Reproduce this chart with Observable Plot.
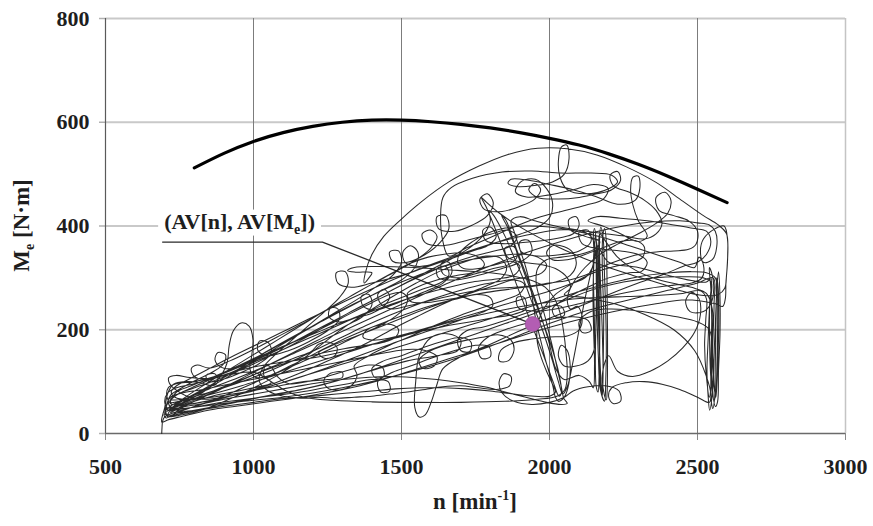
<!DOCTYPE html>
<html><head><meta charset="utf-8">
<script src="https://cdn.jsdelivr.net/npm/d3@7"></script>
<script src="https://cdn.jsdelivr.net/npm/@observablehq/plot@0.6"></script>
<style>body{margin:0;background:#fff} svg{display:block}</style>
</head><body><div id="chart"></div>
<script>
const xTicks = [500, 1000, 1500, 2000, 2500, 3000];
const yTicks = [0, 200, 400, 600, 800];

// full-load torque curve
const maxN = [800, 900, 1000, 1100, 1200, 1300, 1400, 1500, 1600, 1700, 1800, 1900, 2000, 2100, 2200, 2300, 2400, 2500, 2600];
const maxM = [512, 540, 563, 580, 592, 600, 604, 604, 601, 596, 589, 580, 569, 556, 539, 519, 496, 471, 445];

// average operating point
const avgN = [1943];
const avgM = [211];

// annotation leader (text start -> elbow -> average point)
const leaderN = [693, 1233, 1943];
const leaderM = [369, 369, 211];
const labelMain = "(AV[n], AV[M";
const labelSub = "e";
const labelEnd = "])";

const trace = [
[690,0],[691,12],[693,24],[700,32],[730,40],[790,50],[860,64],[940,82],[1020,102],[1100,122],[1180,142],[1260,163],[1340,185],[1410,203],[1470,222],[1510,242],[1520,260],[1500,272],[1460,268],[1400,252],[1330,232],[1250,208],[1160,183],[1060,158],[960,132],[870,108],[790,88],[735,72],[708,56],[702,42],[715,33],[760,36],[830,46],
[910,64],[1000,88],[1090,115],[1170,145],[1240,176],[1310,206],[1390,236],[1470,264],[1550,290],[1630,313],[1710,330],[1785,342],[1835,338],[1855,318],[1835,298],[1785,284],[1715,268],[1635,248],[1555,226],[1475,203],[1395,178],[1315,156],[1235,136],[1155,116],[1075,98],[995,84],[915,71],[845,60],[785,49],[735,38],[705,30],[698,36],[720,48],
[770,62],[830,80],[880,104],[910,135],[918,170],[932,198],[958,213],[985,207],[998,182],[994,150],[988,124],[1008,108],[1060,113],[1130,132],[1210,155],[1290,178],[1370,198],[1450,216],[1530,233],[1610,248],[1690,260],[1755,268],[1800,262],[1808,246],[1775,234],[1715,222],[1645,208],[1565,193],[1485,177],[1405,160],[1325,143],[1245,126],[1165,110],[1085,96],[1005,84],[935,74],[875,68],[825,66],[775,72],[738,84],[716,97],[714,108],[738,112],[785,108],
[850,106],[925,114],[1000,118],[1060,100],[1110,82],[1170,70],[1270,64],[1400,61],[1550,60],[1700,60],[1850,62],[1960,66],[2025,72],[2052,85],[2060,115],[2056,155],[2048,195],[2036,232],[2015,262],[1985,282],[1945,294],
[1880,303],[1800,310],[1700,314],[1600,318],[1500,321],[1420,322],[1340,320],[1318,314],[1345,311],[1400,310],[1390,300],[1374,290],[1378,310],[1400,345],[1440,380],[1497,412],[1570,448],[1660,485],[1760,515],[1860,538],[1960,550],[2060,549],[2160,537],[2260,514],[2360,484],[2450,448],[2520,420],[2570,402],[2598,385],[2602,345],[2598,305],[2592,280],[2570,268],[2520,266],[2450,274],[2380,288],
[2280,305],[2150,330],[2020,362],[1910,395],[1830,425],[1785,447],[1770,455],[1785,438],[1820,390],[1860,330],[1900,270],[1940,210],[1980,150],[2012,100],[2032,72],[2040,78],[2032,115],[2004,172],[1966,232],[1926,292],[1888,352],[1858,398],[1838,420],[1852,412],[1888,356],[1928,296],[1966,236],[1998,176],[2022,124],[2050,104],
[2100,112],[2135,100],[2148,88],[2152,130],[2149,200],[2147,268],[2150,330],[2155,384],[2160,342],[2162,280],[2165,220],[2169,160],[2174,102],[2178,72],[2181,112],[2179,182],[2175,252],[2171,312],[2169,372],[2173,398],[2181,378],[2186,302],[2190,232],[2192,162],[2190,102],[2186,62],[2172,84],[2165,150],[2160,240],[2158,320],[2162,360],
[2200,330],[2300,320],[2400,305],[2480,295],[2530,292],[2546,300],[2541,250],[2536,182],[2532,122],[2536,72],[2541,45],[2551,82],[2556,152],[2561,222],[2566,282],[2571,312],[2576,262],[2576,192],[2571,122],[2568,62],[2561,52],[2546,102],[2541,172],[2541,242],[2546,292],
[2520,300],[2450,302],[2350,300],[2250,292],[2150,278],[2050,256],[1950,232],[1850,212],[1750,192],[1650,172],[1550,152],[1450,132],[1350,113],[1250,97],[1150,84],[1050,73],[950,61],[870,52],[800,45],[745,40],[712,34],[700,40],[718,52],
[780,70],[870,98],[960,128],[1050,160],[1150,192],[1250,222],[1350,252],[1440,278],[1510,300],[1550,325],[1555,350],[1530,362],[1505,350],[1512,330],[1560,322],[1640,332],[1730,350],[1820,368],[1900,384],[1962,398],[2002,418],[2010,446],[1990,472],[1952,490],[1905,486],[1885,466],[1922,456],[2000,460],[2080,470],[2150,480],[2198,472],[2182,452],[2122,440],[2040,428],[1960,416],[1880,398],[1800,378],[1720,358],[1660,342],
[1640,370],[1632,420],[1640,455],[1668,474],[1740,492],[1840,504],[1940,506],[2040,502],[2140,502],[2210,498],[2230,485],[2200,472],
[2120,462],[2060,470],[2035,495],[2030,525],[2040,552],[2058,556],[2066,530],[2050,500],[2010,485],[1950,478],[1890,476],[1860,482],[1870,490],[1930,488],[2000,480],[2080,470],[2160,456],[2230,442],[2290,450],[2305,472],[2300,496],[2282,494],[2274,470],[2282,440],[2300,410],[2330,380],
[2300,370],[2240,385],[2180,400],[2130,410],[2160,418],[2240,415],[2330,410],[2420,402],[2490,395],[2530,390],[2545,370],[2530,345],[2500,330],[2450,322],
[2400,310],[2300,290],[2200,268],[2100,245],[2000,222],[1900,198],[1800,172],[1700,148],[1640,125],[1620,95],[1600,60],[1580,36],[1560,32],[1545,50],[1548,100],[1560,150],[1600,185],[1660,192],[1700,180],[1690,160],[1620,150],[1520,140],[1420,125],[1320,108],[1220,92],[1120,80],[1020,70],[930,60],[850,50],[780,42],[730,36],
[760,50],[830,70],[900,88],[980,108],[1060,128],[1140,146],[1195,158],[1220,172],[1255,176],[1282,166],[1275,150],[1240,145],[1220,155],[1260,168],[1340,186],[1420,204],[1500,222],[1580,240],[1660,256],[1740,272],[1820,286],[1880,296],[1915,288],[1900,270],[1850,258],[1780,244],[1700,228],[1620,210],[1540,190],[1460,170],[1390,150],[1340,130],[1350,112],[1330,92],[1290,84],[1250,88],[1238,102],[1260,116],[1300,118],[1300,108],[1250,104],[1170,100],[1090,92],[1010,84],[930,76],[860,70],[800,66],[750,62],
[720,60],[740,80],[790,92],[860,108],[940,128],[1020,150],[1100,175],[1180,200],[1260,226],[1340,250],[1420,272],[1500,292],[1580,310],[1660,325],[1740,336],[1820,342],[1900,346],[1960,340],[1990,325],[1975,310],[1930,302],[1860,296],[1780,288],[1700,276],[1620,262],[1540,246],[1460,228],[1380,208],[1300,186],[1220,164],[1140,142],[1060,122],[980,104],[900,88],[830,76],[770,66],[725,56],[708,70],[712,88],[740,96],[800,100],
[880,112],[960,130],[1040,150],[1120,172],[1200,196],[1280,220],[1360,244],[1440,268],[1520,292],[1600,316],[1680,340],[1740,362],[1780,385],[1800,410],[1795,430],[1812,420],[1850,380],[1880,340],[1910,300],[1935,262],[1960,225],[1985,185],[2010,140],[2030,100],[2045,76],[2060,90],[2080,140],[2100,200],[2120,260],[2140,310],[2155,350],
[2140,380],[2100,392],[2020,392],[1920,382],[1820,368],[1720,350],[1620,330],[1520,308],[1420,284],[1320,258],[1220,230],[1120,202],[1020,174],[920,146],[840,122],[780,104],[740,92],[722,80],[735,70],[780,66],
[860,76],[960,92],[1060,110],[1160,128],[1260,146],[1360,164],[1460,182],[1560,198],[1660,214],[1760,228],[1860,240],[1960,250],[2060,258],[2160,262],[2260,264],[2360,266],[2450,270],[2510,275],[2530,260],[2528,220],[2524,170],[2530,110],[2540,70],[2548,110],[2552,180],[2556,250],[2553,300],
[2500,290],[2400,276],[2300,262],[2200,248],[2100,232],[2000,212],[1900,190],[1800,168],[1700,148],[1600,130],[1500,114],[1400,100],[1300,88],[1200,78],[1100,70],[1000,64],[900,58],[820,52],[760,48],[720,46],
[760,66],[840,96],[920,124],[1000,152],[1080,180],[1160,208],[1240,236],[1320,262],[1400,288],[1480,312],[1550,335],[1600,358],[1620,380],[1600,392],[1570,385],[1580,368],[1640,362],[1720,372],[1800,384],[1860,392],[1890,380],[1870,362],[1800,350],[1720,338],[1640,322],[1560,302],[1480,280],[1400,256],[1320,232],[1240,206],[1160,180],[1080,156],[1000,134],[920,114],[850,98],[790,86],[745,76],[720,66],
[760,66],[850,86],[950,108],[1050,132],[1150,158],[1250,184],[1350,210],[1450,236],[1550,262],[1650,288],[1750,312],[1850,334],[1950,354],[2050,372],[2150,388],[2250,400],[2350,408],[2440,410],[2500,406],[2540,402],[2560,390],[2565,360],[2550,335],[2520,330],[2510,350],[2520,375],[2560,395],[2590,400],[2602,370],[2600,320],[2596,290],[2594,260],[2585,245],[2560,250],
[2460,258],[2360,250],[2260,240],[2160,228],[2060,214],[1960,198],[1860,180],[1760,162],[1660,144],[1560,126],[1460,108],[1360,92],[1260,80],[1160,70],[1060,62],[960,54],[880,48],[810,40],[750,32],[710,26],[690,22],
[700,50],[712,80],[730,95],[770,100],[820,98],[860,92],[880,100],[870,115],[840,112],[850,100],[900,105],[960,118],[1020,135],[1060,155],[1050,175],[1020,178],[1015,160],[1050,150],[1120,160],[1190,178],[1250,198],[1290,220],[1285,240],[1260,242],[1255,225],[1290,215],[1360,228],[1430,246],[1500,262],[1570,278],[1630,290],[1660,305],[1650,322],[1620,318],[1625,300],[1680,296],[1760,305],[1840,318],[1900,330],[1940,350],[1930,372],[1900,370],[1905,350],[1960,342],[2040,345],[2100,352],[2140,370],[2130,392],[2100,388],[2110,366],[2170,356],[2240,352],[2300,345],[2330,330],[2310,312],[2270,310],
[2200,300],[2140,285],[2080,268],[2040,255],[2010,240],[2020,225],[2050,228],[2040,245],[1990,245],[1920,232],[1850,218],[1780,206],[1720,198],[1690,180],[1700,160],[1730,158],[1735,176],[1700,185],[1640,178],[1570,165],[1500,150],[1440,140],[1400,125],[1410,108],[1440,110],[1435,128],[1390,132],[1320,122],[1250,110],[1180,100],[1120,96],[1080,110],[1060,128],[1040,130],[1035,112],[1060,98],[1000,88],[930,80],[860,72],[800,62],[750,50],[720,40],
[740,55],[800,75],[870,95],[940,118],[1010,142],[1080,166],[1150,190],[1220,214],[1290,238],[1360,262],[1420,285],[1470,305],[1500,330],[1490,352],[1460,350],[1470,332],[1520,330],[1580,345],[1630,368],[1660,395],[1650,420],[1620,418],[1625,395],[1680,390],[1740,402],[1790,420],[1810,445],[1790,462],[1765,452],[1780,432],[1840,428],[1900,438],[1950,452],[1970,470],[1950,482],[1930,470],[1960,455],[2030,452],[2100,455],[2160,462],[2210,470],[2240,488],[2230,505],[2205,498],[2215,478],[2270,465],[2320,450],[2360,430],[2380,405],[2360,385],[2320,375],
[2260,380],[2190,385],[2100,392],[2020,400],[1950,410],[1900,418],[1870,410],[1880,390],[1900,355],[1920,320],[1935,285],[1945,250],[1955,215],[1970,180],[1985,145],[2000,115],[2012,90],[2020,70],[2030,62],[2050,70],[2065,95],[2070,130],[2060,160],[2040,170],[2030,150],[2050,130],[2090,130],[2130,140],[2150,160],
[2152,200],[2150,260],[2148,310],[2150,350],[2156,375],[2163,350],[2165,300],[2166,240],[2168,180],[2170,130],[2172,90],[2176,75],[2180,100],[2182,160],[2183,230],[2180,290],[2178,340],[2180,380],[2186,395],[2192,370],[2194,310],[2195,250],[2196,190],[2196,130],[2195,85],[2192,65],[2185,75],[2180,120],
[2200,150],[2230,120],[2280,110],[2340,120],[2400,140],[2450,165],[2490,195],[2510,230],[2505,260],[2480,272],[2460,255],[2475,235],[2520,235],[2545,250],[2555,280],[2550,305],[2540,320],[2545,280],[2548,220],[2546,160],[2545,100],[2547,60],[2552,48],[2558,70],[2560,130],[2562,200],[2564,260],[2565,300],[2570,280],[2572,220],[2570,160],[2566,100],[2562,70],[2556,90],[2552,140],
[2540,200],[2500,215],[2430,225],[2350,232],[2270,238],[2200,240],[2140,235],[2100,215],[2110,195],[2140,198],[2130,218],[2080,225],[2000,220],[1920,212],[1850,200],[1790,185],[1760,165],[1770,145],[1800,148],[1795,168],[1750,170],[1680,160],[1600,145],[1530,130],[1470,118],[1420,100],[1430,80],[1460,82],[1455,100],[1400,104],[1320,96],[1240,88],[1160,80],[1080,74],[1000,68],[920,62],[850,56],[790,50],[745,46],[715,44],
[705,50],[720,70],[760,78],[820,84],[890,92],[960,100],[1030,108],[1100,116],[1170,124],[1240,132],[1310,140],[1380,148],[1450,156],[1520,162],[1580,160],[1620,148],[1610,130],[1570,126],[1560,142],[1600,160],[1660,172],[1720,180],[1780,186],[1830,190],[1870,180],[1880,160],[1860,140],[1830,140],[1835,160],[1880,175],[1940,182],[2000,186],[2060,188],[2100,200],[2110,225],[2095,245],[2070,240],
[2060,260],[2080,290],[2120,320],[2170,345],[2230,365],[2300,385],[2360,405],[2400,425],[2410,450],[2390,465],[2360,455],[2370,430],[2420,420],[2470,410],[2500,390],[2495,365],[2470,355],[2420,352],[2360,350],[2300,345],[2240,335],[2180,322],[2120,305],
[2060,295],[2000,290],[1940,285],[1880,282],[1820,280],[1760,276],[1700,270],[1640,262],[1580,254],[1520,246],[1470,240],[1430,250],[1420,268],[1440,278],[1460,265],[1440,245],[1400,232],[1340,222],[1280,210],[1220,196],[1160,182],[1100,168],[1040,152],[980,136],[930,125],[890,128],[870,142],[880,156],[905,152],[900,135],[860,118],[810,104],[770,92],[740,82],[720,74],[712,60],[725,50],
[770,58],[840,74],[910,92],[980,112],[1050,132],[1120,152],[1190,172],[1260,192],[1320,210],[1370,226],[1400,248],[1390,268],[1365,265],[1370,246],[1410,238],[1470,248],[1530,262],[1590,276],[1640,290],[1670,310],[1660,330],[1635,328],[1640,308],[1690,300],[1750,308],[1810,318],[1860,325],[1890,340],[1880,360],[1850,358],[1858,340],[1910,330],[1970,326],[2020,318],[2060,300],[2070,280],[2050,268],
[2120,262],[2220,250],[2320,230],[2420,200],[2490,160],[2530,110],[2545,75],
[2540,60],[2500,70],[2440,85],[2380,95],[2320,100],[2260,98],[2210,88],[2200,70],[2215,58],[2240,62],[2235,82],[2190,92],[2130,90],[2080,82],[2050,70],[2000,60],[1940,56],[1880,62],[1840,78],[1830,100],[1845,115],[1870,110],[1865,92],[1820,85],[1760,88],[1700,92],[1640,90],[1580,85],[1520,80],[1460,76],[1400,72],[1340,70],[1280,68],
[1220,70],[1160,68],[1100,72],[1050,82],[1020,100],[1030,125],[1070,150],[1120,175],[1180,205],[1240,235],[1290,262],[1320,290],[1310,312],[1280,310],[1285,290],[1330,282],[1400,290],[1470,300],[1540,312],[1610,326],[1680,340],[1740,352],[1790,362],[1820,380],[1800,398],[1775,392],[1785,372],[1840,366],[1910,368],[1980,372],[2040,378],[2080,385],[2100,402],[2090,418],[2065,412],[2072,392],[2120,380],[2170,370],
[2150,355],[2100,345],[2040,340],[1990,335],[1960,318],[1955,290],[1968,258],[1985,225],[2000,190],[2015,155],[2028,120],[2040,90],[2048,68],[2060,58],[2040,56],[1990,60],[1920,70],[1850,80],[1780,90],[1700,98],[1620,104],[1540,108],[1460,110],[1380,108],[1300,104],[1220,98],[1140,90],[1060,82],[980,74],[900,66],[830,58],[770,52],[730,48],[708,50],[700,62],[710,78],[740,88],
[800,96],[860,106],[930,118],[1000,128],[1080,136],[1160,142],[1240,150],[1320,160],[1400,172],[1480,184],[1560,196],[1640,206],[1720,214],[1800,222],[1880,230],[1920,240],[1915,262],[1890,262],[1895,242],[1950,236],[2020,240],[2100,250],[2180,262],[2260,272],[2340,280],[2420,286],[2480,290],[2515,300],[2520,325],[2505,340],[2490,320],
[2440,330],[2360,345],[2270,362],[2180,378],[2090,390],[2000,398],[1920,400],[1850,396],[1790,386],[1740,370],[1700,350],[1690,330],[1710,318],[1760,318],[1820,326],[1870,332],[1900,322],[1880,305],[1820,298],[1740,292],[1660,282],[1580,270],[1500,256],[1420,240],[1340,222],[1260,202],[1180,182],[1100,162],[1020,142],[950,124],[890,110],[840,104],[800,110],[790,125],[810,132],[850,126],
[920,140],[1000,162],[1080,186],[1160,210],[1240,236],[1320,262],[1400,288],[1470,310],[1530,328],[1590,340],[1650,346],[1710,348],[1760,340],[1780,325],[1750,312],[1690,305],[1620,296],[1560,284],[1520,270],[1530,255],[1580,252],[1650,258],[1730,266],[1810,274],[1890,280],[1960,285],[2020,292],[2070,305],[2090,325],[2080,348],[2050,360],[2010,362],[1990,348],[2010,335],[2060,335],[2120,345],[2180,358],[2240,370],[2290,372],[2320,360],[2315,340],[2280,330],[2220,322],
[2150,310],[2080,290],[2020,268],[1980,240],[1960,210],[1958,180],[1970,150],[1990,120],[2010,95],[2020,80],[2000,72],[1950,72],[1880,76],[1800,82],[1720,86],[1640,88],[1560,88],[1480,86],[1400,82],[1320,78],[1240,74],[1160,70],[1080,66],[1000,60],[920,54],[850,48],[790,42],[740,36],[710,32],
[720,46],[760,58],[820,72],[890,88],[960,104],[1030,120],[1100,134],[1170,146],[1240,156],[1310,164],[1380,170],[1440,176],[1480,186],[1490,200],[1465,210],[1420,208],[1380,198],[1370,186],[1400,180],[1460,184],[1530,194],[1600,206],[1670,218],[1740,230],[1810,242],[1880,254],[1950,266],[2020,278],[2080,290],[2120,300],[2145,320],[2150,350],[2148,380],[2152,395],[2158,370],[2160,310],[2158,250],[2156,190],[2155,130],[2158,90],[2164,80],[2168,120],[2170,190],[2170,260],[2168,330],[2170,385],
[2190,370],[2230,340],[2290,315],[2360,298],[2430,288],[2490,280],[2530,270],[2550,240],[2550,190],[2548,140],[2550,95],[2556,62],[2562,80],[2566,140],[2568,210],[2567,270],[2560,300],[2530,310],[2480,312],[2410,310],[2330,305],[2250,296],[2170,285],[2090,272],[2010,258],[1930,244],[1850,230],[1770,216],[1690,202],[1610,188],[1530,174],[1450,160],[1370,146],[1290,132],[1210,118],[1130,104],[1050,90],[970,78],[890,68],[820,60],[760,54],[720,50],[700,46]
];

const maxCurve = maxN.map((n, i) => ({n, M: maxM[i]}));
const avg = avgN.map((n, i) => ({n, M: avgM[i]}));
const leader = leaderN.map((n, i) => ({n, M: leaderM[i]}));

const serif = "'Liberation Serif','Times New Roman',serif";

const plot = Plot.plot({
  width: 873, height: 526,
  marginLeft: 105, marginRight: 28, marginTop: 18, marginBottom: 93,
  x: {domain: [500, 3000]},
  y: {domain: [0, 800]},
  style: {fontFamily: serif, fontSize: "22px", fontWeight: "bold", color: "#1e1e1e", background: "#fff", overflow: "visible"},
  marks: [
    Plot.ruleY(yTicks.filter(d => d > 0), {stroke: "#c9c9c9", strokeWidth: 2}),
    Plot.ruleX(xTicks.filter(d => d > 500 && d < 3000), {stroke: "#7c7c7c", strokeWidth: 1}),
    Plot.ruleX([3000], {stroke: "#c4c4c4", strokeWidth: 1.5}),
    Plot.axisY({ticks: yTicks, tickSize: 6, tickPadding: 10, stroke: "#b0b0b0", strokeWidth: 1.5, tickFormat: d => String(d), label: null, fontSize: 22}),
    Plot.axisX({ticks: xTicks, tickSize: 7, tickPadding: 18, stroke: "#888", tickFormat: d => String(d), label: null, fontSize: 22}),
    Plot.ruleX([500], {stroke: "#5a5a5a", strokeWidth: 1.2}),
    Plot.ruleY([0], {stroke: "#6a6a6a", strokeWidth: 1.5}),
    Plot.line(leader, {x: "n", y: "M", stroke: "#2a2a2a", strokeWidth: 1.3}),
    Plot.line(trace, {x: d => d[0], y: d => d[1], curve: "catmull-rom", stroke: "#121212", strokeWidth: 1.05, strokeOpacity: 0.9}),
    Plot.line(maxCurve, {x: "n", y: "M", curve: "natural", stroke: "#000", strokeWidth: 3.2}),
    Plot.dot(avg, {x: "n", y: "M", r: 7.5, fill: "#b35db3", stroke: "#8d478d", strokeWidth: 0.6})
  ]
});

document.getElementById("chart").append(plot);

const sx = plot.scale("x"), sy = plot.scale("y");
const svg = d3.select(plot);

// annotation text with white backing
const ax = sx.apply(leaderN[0]), ay = sy.apply(leaderM[0]);
const ag = svg.append("g");
const bg = ag.append("rect").attr("fill", "#fff");
const at = ag.append("text")
  .attr("x", ax + 2).attr("y", ay - 13).attr("text-anchor", "start")
  .attr("font-family", serif).attr("font-size", 22).attr("font-weight", "bold").attr("fill", "#1e1e1e");
at.append("tspan").text(labelMain);
at.append("tspan").attr("dy", 5).attr("font-size", 14).text(labelSub);
at.append("tspan").attr("dy", -5).text(labelEnd);
const bb = at.node().getBBox();
bg.attr("x", bb.x - 6).attr("y", bb.y + 1).attr("width", bb.width + 12).attr("height", bb.height - 2);

// x axis title
const xr = sx.range, yr = sy.range;
const xt = svg.append("text")
  .attr("x", (xr[0] + xr[1]) / 2).attr("y", yr[0] + 76)
  .attr("text-anchor", "middle")
  .attr("font-family", serif).attr("font-size", 23).attr("font-weight", "bold").attr("fill", "#1e1e1e");
xt.append("tspan").text("n [min");
xt.append("tspan").attr("dy", -9).attr("font-size", 14).text("-1");
xt.append("tspan").attr("dy", 9).text("]");

// y axis title
const yt = svg.append("text")
  .attr("transform", `translate(29,${(yr[0] + yr[1]) / 2}) rotate(-90)`)
  .attr("text-anchor", "middle")
  .attr("font-family", serif).attr("font-size", 23).attr("font-weight", "bold").attr("fill", "#1e1e1e");
yt.append("tspan").text("M");
yt.append("tspan").attr("dy", 5).attr("font-size", 14).text("e");
yt.append("tspan").attr("dy", -5).text(" [N·m]");
</script>
</body></html>
